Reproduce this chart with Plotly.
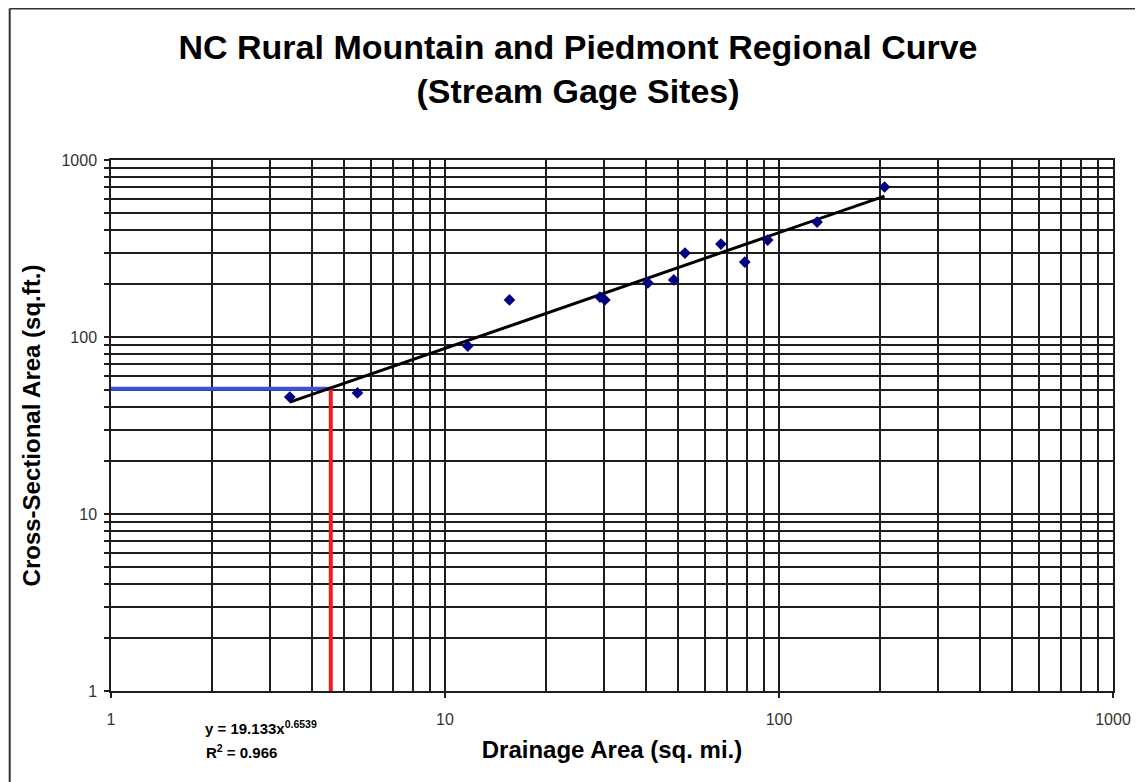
import plotly.graph_objects as go

# Data
drainage_area = [3.43, 5.47, 11.7, 15.6, 29.1, 30.1, 40.5, 48.4, 52.3, 67.0, 79.0, 92.5, 130.0, 207.0]
xs_area = [45.8, 48.3, 88.9, 162.0, 168.0, 162.0, 202.0, 210.0, 298.0, 335.0, 265.0, 353.0, 446.0, 704.0]
coef = 19.133
expo = 0.6539
fit_x_range = [3.43, 207.0]
design_x = 4.55
design_y = 51.0
decade_vals = [1, 10, 100, 1000]
decade_text = ["1", "10", "100", "1000"]

minor_vals = [d * k for d in [1, 10, 100] for k in range(2, 10)]

fit_x = [fit_x_range[0] * (fit_x_range[1] / fit_x_range[0]) ** (i / 50) for i in range(51)]
fit_y = [coef * x ** expo for x in fit_x]

FONT = "Liberation Sans, Arial"
fig = go.Figure()
fig.add_trace(go.Scatter(x=[1, design_x], y=[design_y, design_y], mode="lines",
                         line=dict(color="#3e50d8", width=4), showlegend=False, cliponaxis=False))
fig.add_trace(go.Scatter(x=[design_x, design_x], y=[1, design_y], mode="lines",
                         line=dict(color="#ee1c25", width=4), showlegend=False, cliponaxis=False))
fig.add_trace(go.Scatter(x=fit_x, y=fit_y, mode="lines",
                         line=dict(color="black", width=3), showlegend=False))
fig.add_trace(go.Scatter(x=drainage_area, y=xs_area, mode="markers",
                         marker=dict(symbol="diamond", color="#000080", size=9),
                         showlegend=False))

grid_col = "#1e1e1e"
fig.update_xaxes(type="log", range=[0, 3], tickvals=decade_vals, ticktext=decade_text,
                 showgrid=True, gridcolor=grid_col, gridwidth=1.5,
                 ticks="outside", ticklen=5, tickcolor=grid_col, tickwidth=1.5,
                 ticklabelstandoff=8,
                 showline=True, linecolor=grid_col, linewidth=1.5, mirror=True,
                 zeroline=False,
                 minor=dict(tickvals=minor_vals, showgrid=True, gridcolor=grid_col, gridwidth=1.5, ticks=""),
                 tickfont=dict(family=FONT, size=16, color="#333"),
                 title=dict(text="<b>Drainage Area (sq. mi.)</b>", standoff=14,
                            font=dict(family=FONT, size=24, color="black")))
fig.update_yaxes(type="log", range=[0, 3], tickvals=decade_vals, ticktext=decade_text,
                 showgrid=True, gridcolor=grid_col, gridwidth=1.5,
                 ticks="outside", ticklen=5, tickcolor=grid_col, tickwidth=1.5,
                 ticklabelstandoff=4,
                 showline=True, linecolor=grid_col, linewidth=1.5, mirror=True,
                 zeroline=False,
                 minor=dict(tickvals=minor_vals, showgrid=True, gridcolor=grid_col, gridwidth=1.5,
                            ticks="outside", ticklen=5, tickcolor=grid_col, tickwidth=1.5),
                 tickfont=dict(family=FONT, size=16, color="#333"),
                 title=dict(text="<b>Cross-Sectional Area (sq.ft.)</b>", standoff=14,
                            font=dict(family=FONT, size=24, color="black")))

W, H = 1135, 774
fig.update_layout(
    width=W, height=H,
    margin=dict(l=103, r=28, t=152, b=91),
    paper_bgcolor="white", plot_bgcolor="white",
    title=dict(text="<b>NC Rural Mountain and Piedmont Regional Curve<br>(Stream Gage Sites)</b>",
               xref="container", yref="container",
               x=(578 - 8) / W, xanchor="center", y=1 - (59 - 8) / H, yanchor="middle",
               font=dict(family=FONT, size=34, color="black")),
    annotations=[
        dict(text="<b>y = 19.133x<sup>0.6539</sup></b>", xref="paper", yref="paper",
             x=(203 - 111) / 1004, y=(691 - 739) / 531, showarrow=False,
             font=dict(family=FONT, size=15, color="black")),
        dict(text="<b>R<sup>2</sup> = 0.966</b>", xref="paper", yref="paper",
             x=(204 - 111) / 1004, y=(691 - 763) / 531, showarrow=False,
             font=dict(family=FONT, size=15, color="black")),
    ],
    shapes=[
        dict(type="line", xref="paper", yref="paper", x0=(9.5 - 111) / 1004, x1=(9.5 - 111) / 1004,
             y0=(691 - 8.5) / 531, y1=(691 - 800) / 531, line=dict(color="#333", width=2)),
        dict(type="line", xref="paper", yref="paper", x0=(9.5 - 111) / 1004, x1=(1160 - 111) / 1004,
             y0=(691 - 8.5) / 531, y1=(691 - 8.5) / 531, line=dict(color="#333", width=2)),
    ],
)

fig.write_html("out.html")
